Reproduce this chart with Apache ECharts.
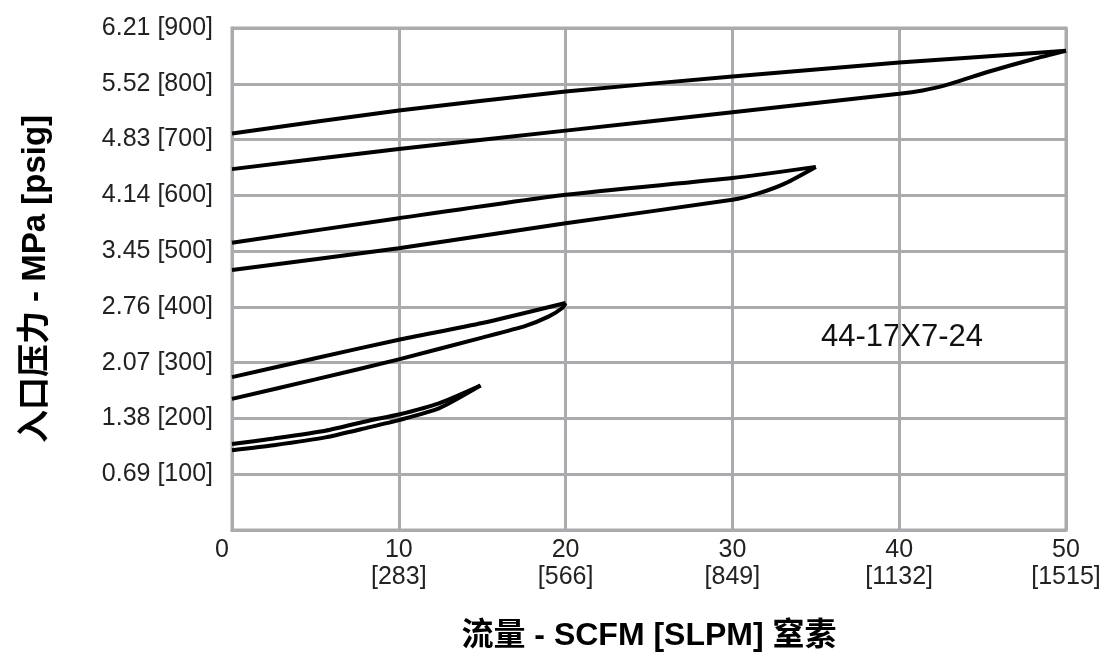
<!DOCTYPE html>
<html>
<head>
<meta charset="utf-8">
<script src="https://cdn.jsdelivr.net/npm/echarts@6/dist/echarts.min.js"></script>
<style>html,body{margin:0;padding:0;background:#fff}#c{width:1109px;height:659px}</style>
</head>
<body>
<div id="c"></div>
<script>
// Tick labels
var yTickLabels = ['', '0.69 [100]', '1.38 [200]', '2.07 [300]', '2.76 [400]', '3.45 [500]', '4.14 [600]', '4.83 [700]', '5.52 [800]', '6.21 [900]'];
var xTickLabels = ['0', '10\n[283]', '20\n[566]', '30\n[849]', '40\n[1132]', '50\n[1515]'];

// Curves (x: SCFM, y: psig)
var s1UpperX = [0, 10, 20, 30, 40, 50];
var s1UpperY = [711, 752, 786, 813, 838, 859];
var s1LowerX = [0, 10, 20, 30, 40, 41.4, 42.75, 45.4, 48, 50];
var s1LowerY = [647, 683, 716, 749, 782, 788, 797, 822, 844, 859];

var s2UpperX = [0, 10, 20, 30, 35];
var s2UpperY = [515, 559, 601, 631, 651];
var s2LowerX = [0, 10, 20, 30, 31.6, 33.2, 35];
var s2LowerY = [466, 505, 550, 592, 604, 622, 651];

var s3UpperX = [0, 5, 10, 15, 20];
var s3UpperY = [274, 308, 341, 371, 407];
var s3LowerX = [0, 5, 10, 15, 17.6, 19, 19.8, 20];
var s3LowerY = [235, 270, 306, 345, 366, 383, 398, 407];

var s4UpperX = [0, 2.5, 5.6, 8.2, 10, 12.4, 14.9];
var s4UpperY = [154, 164, 178, 196, 207, 227, 259];
var s4LowerX = [0, 2.5, 5.6, 8.2, 10, 12.4, 14.9];
var s4LowerY = [143, 152, 166, 184, 197, 218, 259];

var modelLabel = '44-17X7-24';
var xTitle = '流量 - SCFM [SLPM] 窒素';
var yTitle = '入口压力 - MPa [psig]';

function pairs(xs, ys) { return xs.map(function (x, i) { return [x, ys[i]]; }); }

var curves = [
  [s1UpperX, s1UpperY], [s1LowerX, s1LowerY],
  [s2UpperX, s2UpperY], [s2LowerX, s2LowerY],
  [s3UpperX, s3UpperY], [s3LowerX, s3LowerY],
  [s4UpperX, s4UpperY], [s4LowerX, s4LowerY]
];

var FONT = 'Arial, "Liberation Sans", "Noto Sans CJK SC", sans-serif';
var TITLEFONT = 'Arial, "Liberation Sans", "Noto Sans CJK SC", sans-serif';
var GRAY = '#a9abae';

var chart = echarts.init(document.getElementById('c'), null, { renderer: 'canvas' });
chart.setOption({
  animation: false,
  backgroundColor: '#fff',
  grid: { left: 232, right: 43, top: 28, bottom: 129, show: true, borderColor: GRAY, borderWidth: 3 },
  xAxis: {
    type: 'value', min: 0, max: 50, interval: 10,
    axisLine: { show: true, lineStyle: { color: GRAY, width: 3 } },
    axisTick: { show: false },
    splitLine: { show: true, lineStyle: { color: GRAY, width: 3 } },
    axisLabel: {
      margin: 7, color: '#222', fontSize: 25, fontFamily: FONT, lineHeight: 27,
      formatter: function (v) {
        var i = Math.round(v / 10);
        if (i === 0) return '{z|0}';
        return xTickLabels[i];
      },
      rich: { z: { fontSize: 25, fontFamily: FONT, color: '#222', lineHeight: 27, padding: [0, 20, 0, 0] } }
    },
    name: xTitle, nameLocation: 'middle', nameGap: 90,
    nameTextStyle: { fontSize: 32, fontWeight: 'bold', color: '#000', fontFamily: TITLEFONT }
  },
  yAxis: {
    type: 'value', min: 0, max: 900, interval: 100,
    axisLine: { show: true, lineStyle: { color: GRAY, width: 3 } },
    axisTick: { show: false },
    splitLine: { show: true, lineStyle: { color: GRAY, width: 3 } },
    axisLabel: {
      margin: 19, color: '#222', fontSize: 25, fontFamily: FONT,
      formatter: function (v) { return yTickLabels[Math.round(v / 100)]; }
    },
    name: yTitle, nameLocation: 'middle', nameGap: 180, nameRotate: 90,
    nameTextStyle: { fontSize: 33, fontWeight: 'bold', color: '#000', fontFamily: TITLEFONT }
  },
  graphic: [{
    type: 'text', left: 821, top: 322,
    style: { text: modelLabel, fontSize: 31, fontFamily: FONT, fill: '#111' }
  }],
  series: curves.map(function (c) {
    return {
      type: 'line', data: pairs(c[0], c[1]), smooth: 0.2, symbol: 'none',
      lineStyle: { color: '#000', width: 4 }, z: 5
    };
  })
});
</script>
</body>
</html>
